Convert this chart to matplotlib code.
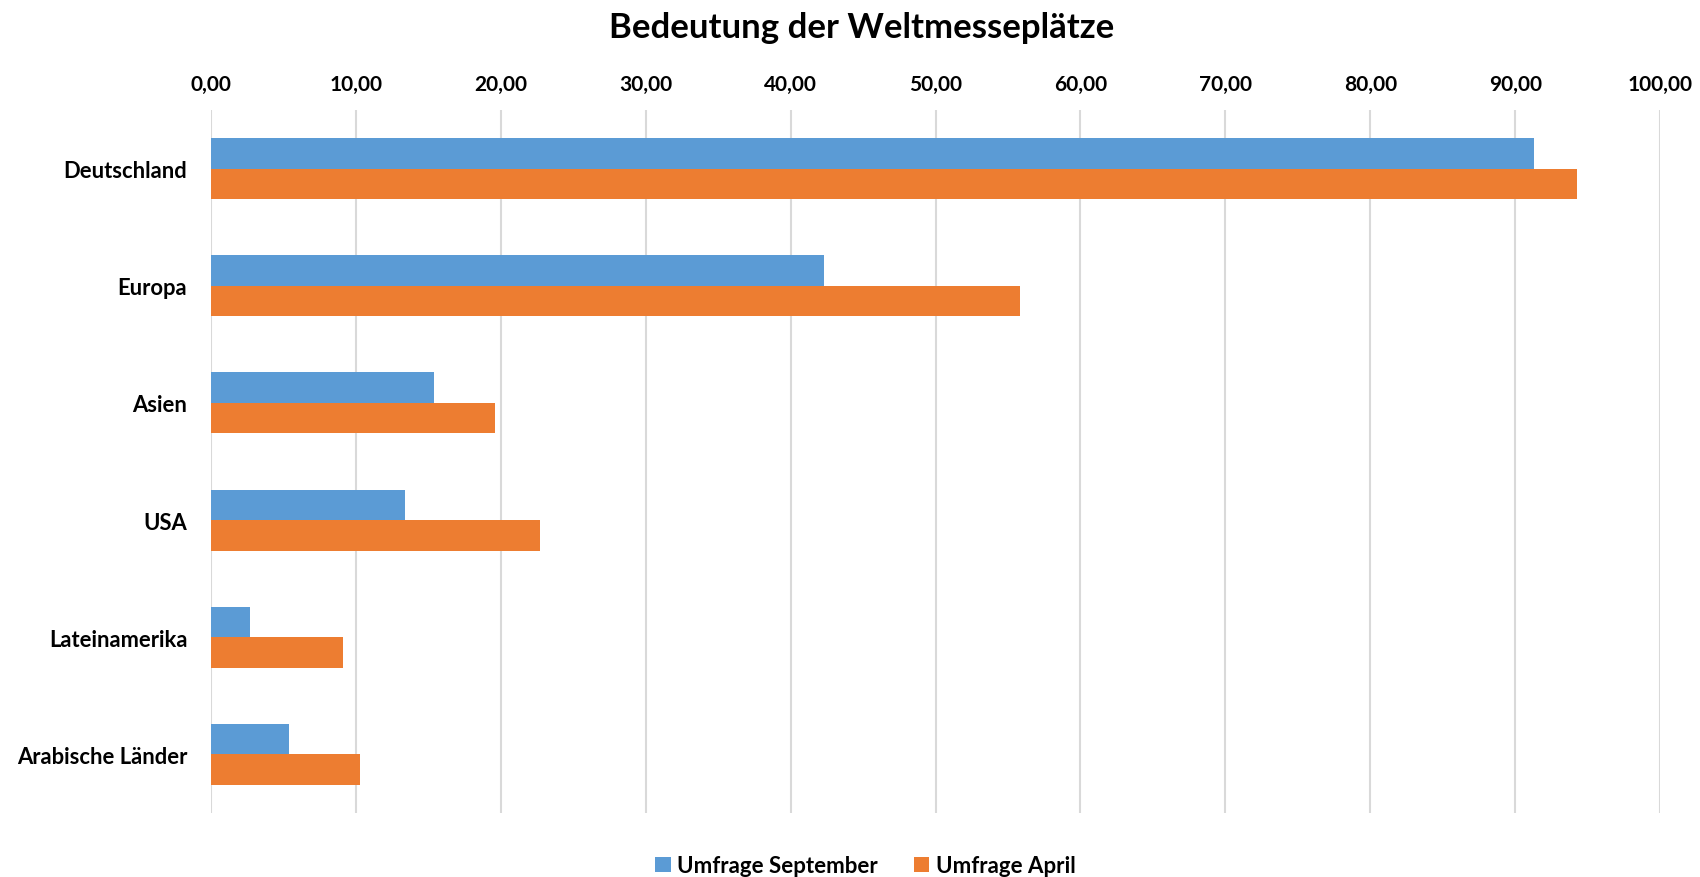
import numpy as np
import matplotlib.pyplot as plt
from matplotlib.ticker import FuncFormatter

# data
categories = ['Deutschland', 'Europa', 'Asien', 'USA', 'Lateinamerika', 'Arabische Länder']
september = [91.3, 42.3, 15.4, 13.4, 2.7, 5.4]
april = [94.3, 55.8, 19.6, 22.7, 9.1, 10.3]
series_names = ['Umfrage September', 'Umfrage April']

plt.rcParams['font.family'] = ['Lato', 'DejaVu Sans']

fig = plt.figure(figsize=(17, 8.78), dpi=100)
ax = fig.add_axes([0.1241, 0.0729, 0.8524, 0.8007])

y = np.arange(len(categories))
h = 0.26
ax.barh(y - h / 2, september, height=h, color='#5B9BD5', label=series_names[0], zorder=3)
ax.barh(y + h / 2, april, height=h, color='#ED7D31', label=series_names[1], zorder=3)

ax.set_xlim(0, 100)
ax.set_ylim(len(categories) - 0.5, -0.5)
ax.set_xticks(np.arange(0, 101, 10))
ax.xaxis.set_major_formatter(FuncFormatter(lambda v, p: f'{v:.2f}'.replace('.', ',')))
ax.xaxis.tick_top()
ax.set_yticks(y)
ax.set_yticklabels(categories)

ax.grid(axis='x', color='#d9d9d9', linewidth=1.5, zorder=0)
for s in ax.spines.values():
    s.set_visible(False)
ax.tick_params(length=0)
ax.tick_params(axis='x', pad=11.5, labelsize=15)
ax.tick_params(axis='y', pad=17, labelsize=15.8)
for lbl in ax.get_xticklabels() + ax.get_yticklabels():
    lbl.set_fontweight('bold')

fig.text(0.507, 0.968, 'Bedeutung der Weltmesseplätze', ha='center', va='center',
         fontsize=25, fontweight='bold')

fig.legend(loc='center', bbox_to_anchor=(0.509, 0.013), ncol=2, frameon=False,
           prop={'size': 16, 'weight': 'bold'}, handlelength=0.7, handleheight=0.7,
           handletextpad=0.3, columnspacing=1.6)

fig.savefig('out.png', dpi=100)
